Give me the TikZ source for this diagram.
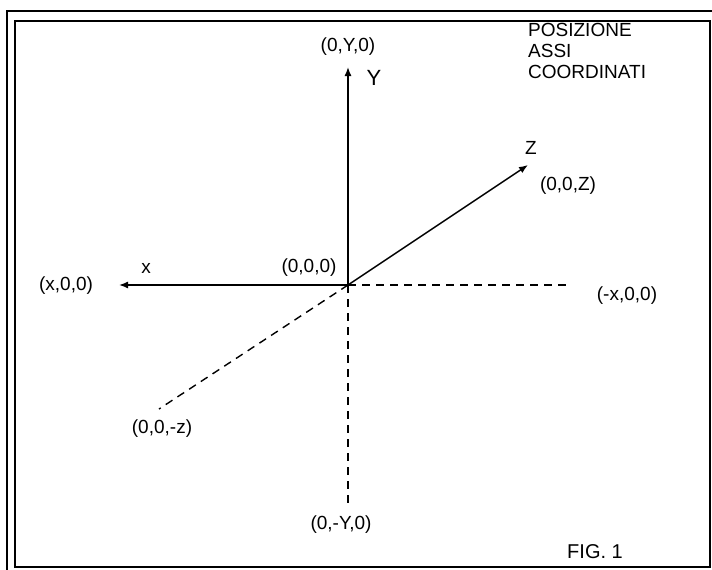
\documentclass[tikz,border=0pt]{standalone}
\usepackage{fontspec}
\setmainfont{Liberation Sans}
\usetikzlibrary{arrows.meta}
\begin{document}
\begin{tikzpicture}[x=1pt,y=-1pt,
        lbl/.style={font=\fontsize{19}{21}\selectfont, inner sep=1pt},
        axis/.style={line width=1.4pt,-{Latex[length=9pt,width=7pt]}},
        neg/.style={line width=1.4pt,dash pattern=on 8pt off 6pt}]
    \useasboundingbox (0,0) rectangle (712,570);
    % cornice doppia
    \draw[line width=1.4pt] (7,570) -- (7,11) -- (712,11);
    \draw[line width=1.8pt] (15,21) rectangle (710,567);
    % assi
    \coordinate (O) at (348,285);
    \coordinate (Yp) at (348,67);
    \coordinate (Xp) at (119,285);
    \coordinate (Zp) at (528,165);
    \coordinate (Xm) at (570,285);
    \coordinate (Ym) at (348,507);
    \coordinate (Zm) at (159,409);
    \draw[axis] (O) -- (Yp);
    \draw[axis] (O) -- (Xp);
    \draw[axis] (O) -- (Zp);
    \draw[neg] (O) -- (Xm);
    \draw[neg] (O) -- (Ym);
    \draw[neg] (O) -- (Zm);
    % etichette
    \node[lbl] (ly) at (374,78) {\fontsize{22}{24}\selectfont Y};
    \node[lbl] (lx) at (146,268) {x};
    \node[lbl] (lz) at (531,148) {Z};
    \node[lbl] (cyp) at (348,47) {(0,Y,0)};
    \node[lbl] (cxp) at (66,286) {(x,0,0)};
    \node[lbl] (czp) at (568,186) {(0,0,Z)};
    \node[lbl] (co) at (309,268) {(0,0,0)};
    \node[lbl] (cxm) at (627,296) {(-x,0,0)};
    \node[lbl] (czm) at (162,429) {(0,0,-z)};
    \node[lbl] (cym) at (341,525) {(0,-Y,0)};
    \node[lbl,anchor=north west,align=left] (titolo) at (527,22) {POSIZIONE\\ASSI\\COORDINATI};
    \node[lbl] (fig) at (595,552) {\fontsize{20}{23}\selectfont FIG. 1};
\end{tikzpicture}
\end{document}
